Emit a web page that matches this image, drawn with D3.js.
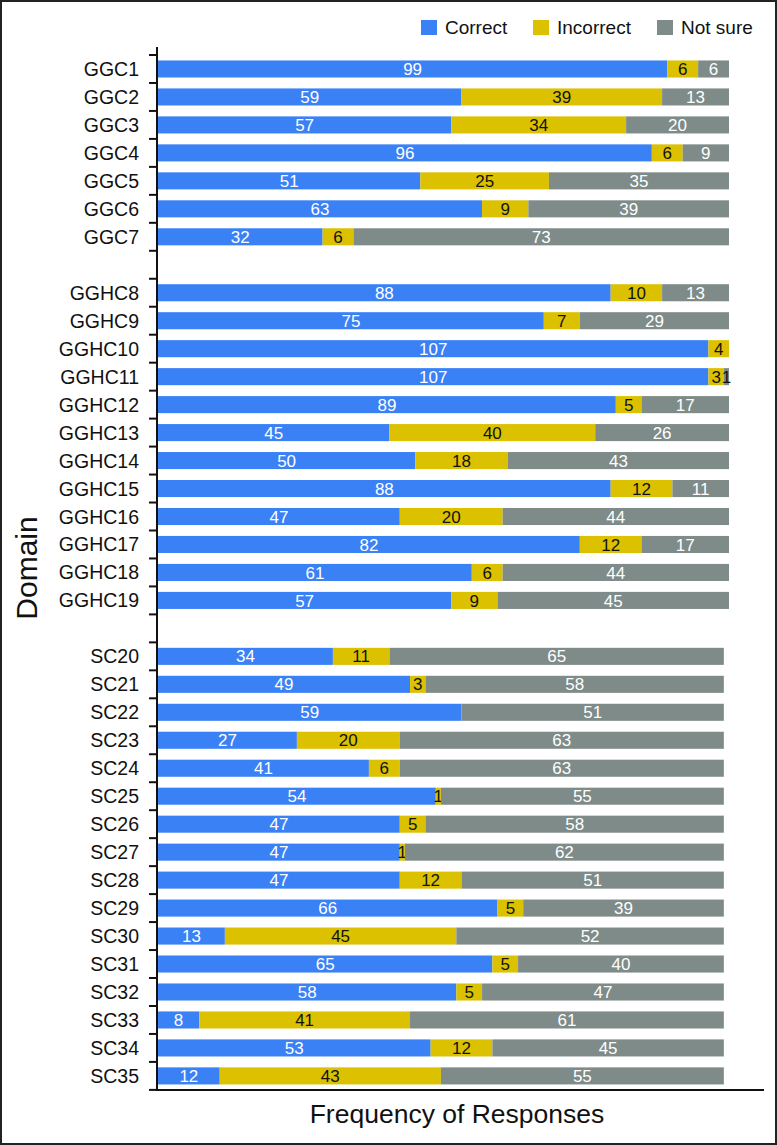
<!DOCTYPE html>
<html><head><meta charset="utf-8">
<script src="https://cdn.jsdelivr.net/npm/d3@7"></script>
<style>body{margin:0;background:#fff}svg{display:block}</style>
</head><body>
<script>
const categories = ["GGC1","GGC2","GGC3","GGC4","GGC5","GGC6","GGC7","",
 "GGHC8","GGHC9","GGHC10","GGHC11","GGHC12","GGHC13","GGHC14","GGHC15","GGHC16","GGHC17","GGHC18","GGHC19"," ",
 "SC20","SC21","SC22","SC23","SC24","SC25","SC26","SC27","SC28","SC29","SC30","SC31","SC32","SC33","SC34","SC35"];
const correct   = [99,59,57,96,51,63,32,null,88,75,107,107,89,45,50,88,47,82,61,57,null,34,49,59,27,41,54,47,47,47,66,13,65,58,8,53,12];
const incorrect = [6,39,34,6,25,9,6,null,10,7,4,3,5,40,18,12,20,12,6,9,null,11,3,0,20,6,1,5,1,12,5,45,5,5,41,12,43];
const notSure   = [6,13,20,9,35,39,73,null,13,29,0,1,17,26,43,11,44,17,44,45,null,65,58,51,63,63,55,58,62,51,39,52,40,47,61,45,55];
const seriesNames = ["Correct","Incorrect","Not sure"];
const colors = ["#3a81f6","#dbc100","#7e8b89"];
const textColors = ["#ffffff","#111111","#ffffff"];

const W=777,H=1145;
const svg=d3.select("body").append("svg").attr("width",W).attr("height",H);
const font="'Liberation Sans',Arial,Helvetica,sans-serif";
svg.append("rect").attr("x",1).attr("y",1).attr("width",W-2).attr("height",H-2)
  .attr("fill","none").attr("stroke","#222").attr("stroke-width",2);

const x0=158, yTop=55, step=27.97;
const x=d3.scaleLinear().domain([0,111]).range([x0,x0+111*5.144]);
const y=d3.scaleBand().domain(categories).range([yTop,yTop+step*categories.length]).paddingInner(0.39).paddingOuter(0.195);

const rows=categories.map((c,i)=>({c,vals:[correct[i],incorrect[i],notSure[i]]})).filter(r=>r.vals[0]!==null);
rows.forEach(r=>{
  let acc=0;
  const g=svg.append("g");
  r.vals.forEach((v,k)=>{
    if(!v) return;
    const w=x(acc+v)-x(acc);
    g.append("rect").attr("x",x(acc)).attr("y",y(r.c)).attr("width",w).attr("height",y.bandwidth()).attr("fill",colors[k]);
    g.append("text").attr("x",(x(acc)+x(acc+v))/2).attr("y",y(r.c)+y.bandwidth()/2).attr("dy","0.36em")
      .attr("text-anchor","middle").attr("font-family",font).attr("font-size",17)
      .attr("fill",w<8?"#111111":textColors[k]).text(v);
    acc+=v;
  });
});

// y axis
const yEnd=yTop+step*categories.length;
svg.append("line").attr("x1",157).attr("x2",157).attr("y1",47).attr("y2",yEnd+1).attr("stroke","#111").attr("stroke-width",2);
d3.range(categories.length+1).forEach(i=>{
  svg.append("line").attr("x1",149).attr("x2",157).attr("y1",yTop+i*step).attr("y2",yTop+i*step).attr("stroke","#111").attr("stroke-width",2);
});
categories.forEach(c=>{
  if(!c.trim())return;
  svg.append("text").attr("x",139).attr("y",y(c)+y.bandwidth()/2).attr("dy","0.36em").attr("text-anchor","end")
    .attr("font-family",font).attr("font-size",19.5).attr("fill","#111").text(c);
});
// x axis
svg.append("line").attr("x1",156).attr("x2",764).attr("y1",yEnd).attr("y2",yEnd).attr("stroke","#111").attr("stroke-width",2);
svg.append("text").attr("x",457).attr("y",1123).attr("text-anchor","middle").attr("font-family",font).attr("font-size",26.5).attr("fill","#111").text("Frequency of Responses");
svg.append("text").attr("transform","translate(37,568) rotate(-90)").attr("text-anchor","middle").attr("font-family",font).attr("font-size",30).attr("fill","#111").text("Domain");

// legend
const legX=[421,533,657];
seriesNames.forEach((n,k)=>{
  svg.append("rect").attr("x",legX[k]).attr("y",20).attr("width",16).attr("height",15).attr("fill",colors[k]);
  svg.append("text").attr("x",legX[k]+24).attr("y",27.5).attr("dy","0.36em").attr("font-family",font).attr("font-size",19).attr("fill","#111").text(n);
});
</script>
</body></html>
